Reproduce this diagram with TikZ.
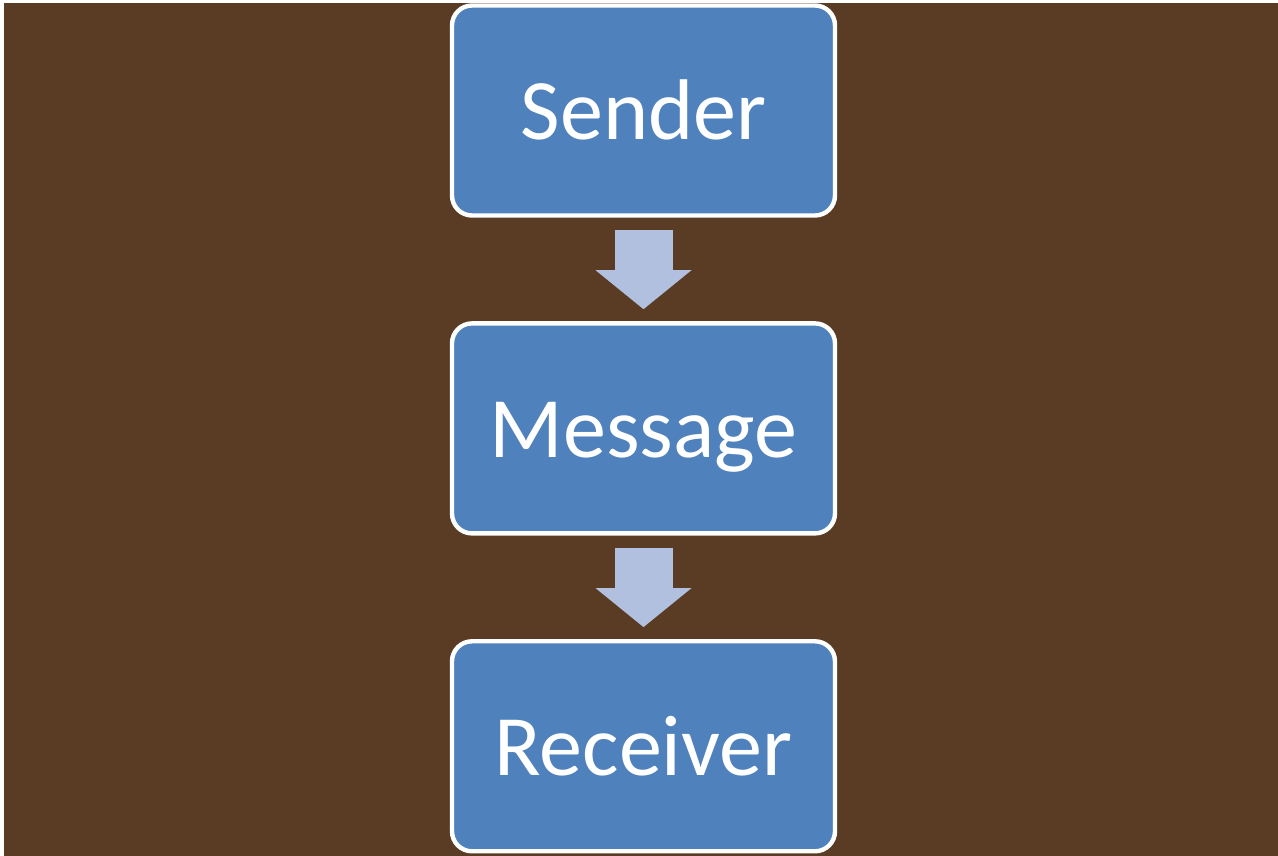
\documentclass[tikz,border=0pt]{standalone}
\usepackage{fontspec}
\setmainfont{Carlito}
\usetikzlibrary{positioning, arrows.meta}
\definecolor{marblebrown}{RGB}{90,60,37}
\definecolor{boxblue}{RGB}{79,129,189}
\definecolor{arrowblue}{RGB}{176,192,222}

\begin{document}
\begin{tikzpicture}[
    stage/.style={draw=white, fill=boxblue, line width=2.5pt, rounded corners=0.4cm,
        minimum width=7.66cm, minimum height=4.2cm, text=white,
        text height=33pt, text depth=0pt, font=\fontsize{49}{58}\selectfont},
    flow/.style={draw=arrowblue, line width=1.16cm,
        -{Triangle[width=1.92cm, length=0.78cm, line width=0pt]}},
    node distance=2.07cm
]
    \useasboundingbox (0,0) rectangle (25.56,-17.12);
    \fill[white] (0,0) rectangle (25.56,-17.12);
    \fill[marblebrown] (0.08,-0.06) rectangle (25.56,-17.12);

    \node[stage] (sender) at (12.87,-2.21) {Sender};
    \node[stage, below=of sender] (message) {Message};
    \node[stage, below=of message] (receiver) {Receiver};

    \draw[flow] ([yshift=-0.24cm]sender.south) -- ([yshift=0.24cm]message.north);
    \draw[flow] ([yshift=-0.24cm]message.south) -- ([yshift=0.24cm]receiver.north);
\end{tikzpicture}
\end{document}
